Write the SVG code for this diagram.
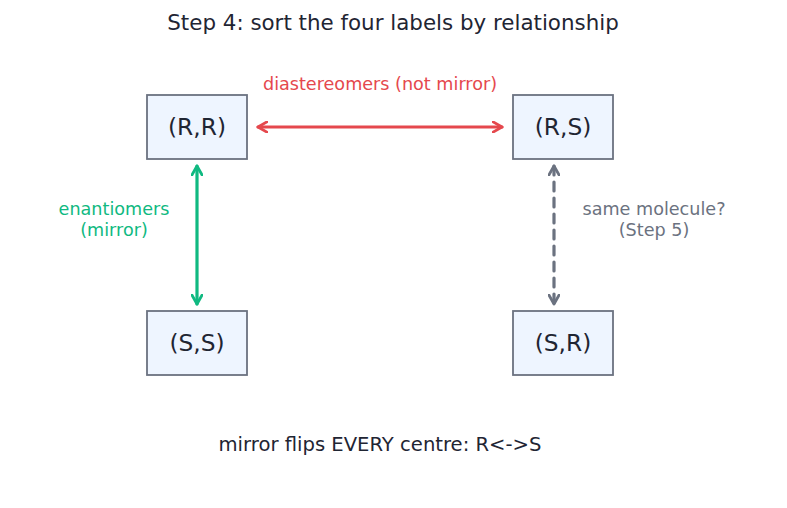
<svg xmlns="http://www.w3.org/2000/svg" width="787" height="508" viewBox="0 0 787 508">
<style>
text{font-family:"DejaVu Sans","Liberation Sans",sans-serif;}
.box{fill:#eef5ff;stroke:#6b7280;stroke-width:1.8;}
.nt{font-size:23.3px;fill:#1f2533;text-anchor:middle;}
.lbl{font-size:17.6px;text-anchor:middle;}
</style>
<defs>
<marker id="hr" viewBox="0 0 10 10" refX="8" refY="5" markerWidth="4" markerHeight="4" orient="auto-start-reverse" markerUnits="strokeWidth"><path d="M1,1 L8,5 L1,9" fill="none" stroke="#e5484d" stroke-width="2.2" stroke-linecap="round" stroke-linejoin="round"/></marker>
<marker id="hg" viewBox="0 0 10 10" refX="8" refY="5" markerWidth="4" markerHeight="4" orient="auto-start-reverse" markerUnits="strokeWidth"><path d="M1,1 L8,5 L1,9" fill="none" stroke="#10b981" stroke-width="2.2" stroke-linecap="round" stroke-linejoin="round"/></marker>
<marker id="hk" viewBox="0 0 10 10" refX="8" refY="5" markerWidth="4" markerHeight="4" orient="auto-start-reverse" markerUnits="strokeWidth"><path d="M1,1 L8,5 L1,9" fill="none" stroke="#6b7280" stroke-width="2.2" stroke-linecap="round" stroke-linejoin="round"/></marker>
</defs>
<rect width="787" height="508" fill="#ffffff"/>
<text x="393" y="30" font-size="21.4" fill="#1f2533" text-anchor="middle">Step 4: sort the four labels by relationship</text>
<g id="connectors" fill="none" stroke-width="3.2" stroke-linecap="round">
<line x1="258" y1="127" x2="502" y2="127" stroke="#e5484d" marker-start="url(#hr)" marker-end="url(#hr)"/>
<line x1="197" y1="166" x2="197" y2="304" stroke="#10b981" marker-start="url(#hg)" marker-end="url(#hg)"/>
<line x1="554" y1="166" x2="554" y2="304" stroke="#6b7280" stroke-dasharray="9,7" marker-start="url(#hk)" marker-end="url(#hk)"/>
</g>
<text class="lbl" x="380" y="90" fill="#e5484d">diastereomers (not mirror)</text>
<text class="lbl" x="114" y="215" fill="#10b981">enantiomers</text>
<text class="lbl" x="114" y="236" fill="#10b981">(mirror)</text>
<text class="lbl" x="654" y="215" fill="#6b7280">same molecule?</text>
<text class="lbl" x="654" y="236" fill="#6b7280">(Step 5)</text>
<g id="RR"><rect class="box" x="147" y="95" width="100" height="64"/><text class="nt" x="197" y="135">(R,R)</text></g>
<g id="RS"><rect class="box" x="513" y="95" width="100" height="64"/><text class="nt" x="563" y="135">(R,S)</text></g>
<g id="SS"><rect class="box" x="147" y="311" width="100" height="64"/><text class="nt" x="197" y="351">(S,S)</text></g>
<g id="SR"><rect class="box" x="513" y="311" width="100" height="64"/><text class="nt" x="563" y="351">(S,R)</text></g>
<text x="380" y="451" font-size="19.6" fill="#1f2533" text-anchor="middle">mirror flips EVERY centre: R&lt;-&gt;S</text>
</svg>
